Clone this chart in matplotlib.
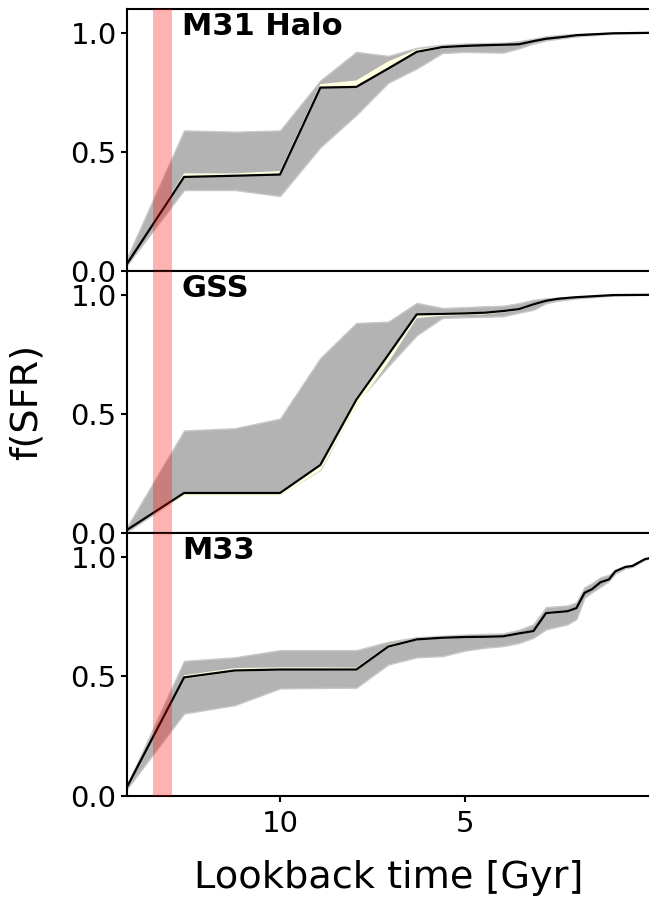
import matplotlib
matplotlib.use("Agg")
import matplotlib.pyplot as plt

# ---------------- data ----------------
panel_names = ["M31 Halo", "GSS", "M33"]

t_m31 = [14.13, 12.59, 11.22, 10.0, 8.91, 7.94, 7.08, 6.31, 5.62, 5.01, 4.47, 3.98,
         3.55, 3.16, 2.82, 2.51, 2.24, 2.0, 1.0, 0.0]
m31_best = [0.03, 0.395, 0.40, 0.405, 0.77, 0.773, 0.85, 0.92, 0.94, 0.945, 0.948, 0.95,
            0.952, 0.965, 0.975, 0.98, 0.985, 0.99, 0.998, 1.0]
m31_hi = [0.055, 0.59, 0.585, 0.59, 0.80, 0.92, 0.903, 0.937, 0.95, 0.955, 0.957, 0.958,
          0.965, 0.975, 0.985, 0.99, 0.993, 0.995, 1.0, 1.0]
m31_lo = [0.025, 0.34, 0.34, 0.315, 0.52, 0.655, 0.79, 0.85, 0.915, 0.92, 0.918, 0.917,
          0.935, 0.955, 0.968, 0.975, 0.98, 0.985, 0.997, 1.0]
m31_rand_hi = [0.03, 0.41, 0.41, 0.42, 0.785, 0.80, 0.88, 0.93, 0.945, 0.948, 0.95, 0.953,
               0.955, 0.968, 0.978, 0.982, 0.987, 0.992, 0.999, 1.0]
m31_rand_lo = [0.03, 0.395, 0.40, 0.405, 0.77, 0.77, 0.85, 0.915, 0.935, 0.942, 0.946, 0.948,
               0.95, 0.963, 0.973, 0.978, 0.983, 0.988, 0.997, 1.0]

t_gss = [14.13, 12.59, 11.22, 10.0, 8.91, 7.94, 7.08, 6.31, 5.62, 5.01, 4.47, 3.98,
         3.55, 3.16, 2.82, 2.51, 2.24, 2.0, 1.0, 0.0]
gss_best = [0.013, 0.168, 0.168, 0.168, 0.286, 0.56, 0.748, 0.918, 0.92, 0.922, 0.925, 0.932,
            0.94, 0.96, 0.975, 0.983, 0.987, 0.99, 0.999, 1.0]
gss_hi = [0.025, 0.43, 0.44, 0.48, 0.735, 0.882, 0.887, 0.966, 0.945, 0.948, 0.952, 0.954,
          0.965, 0.979, 0.985, 0.988, 0.99, 0.992, 1.0, 1.0]
gss_lo = [0.005, 0.164, 0.164, 0.164, 0.265, 0.546, 0.70, 0.83, 0.903, 0.906, 0.908, 0.91,
          0.925, 0.937, 0.965, 0.975, 0.98, 0.985, 0.997, 1.0]
gss_rand_hi = [0.015, 0.172, 0.172, 0.172, 0.292, 0.57, 0.755, 0.922, 0.925, 0.926, 0.929, 0.936,
               0.944, 0.963, 0.978, 0.985, 0.989, 0.992, 1.0, 1.0]
gss_rand_lo = [0.01, 0.156, 0.156, 0.156, 0.262, 0.528, 0.715, 0.902, 0.912, 0.915, 0.918, 0.926,
               0.934, 0.955, 0.97, 0.98, 0.984, 0.987, 0.998, 1.0]

t_m33 = [14.13, 12.59, 11.22, 10.0, 8.91, 7.94, 7.08, 6.31, 5.62, 5.01, 4.47, 3.98,
         3.55, 3.16, 2.82, 2.24, 2.0, 1.78, 1.58, 1.35, 1.12, 0.95, 0.68, 0.49, 0.30,
         0.16, 0.0]
m33_best = [0.038, 0.496, 0.525, 0.529, 0.529, 0.529, 0.625, 0.655, 0.662, 0.665, 0.666, 0.668,
            0.68, 0.69, 0.765, 0.773, 0.786, 0.85, 0.865, 0.894, 0.906, 0.94, 0.958, 0.962, 0.978,
            0.99, 0.996]
m33_hi = [0.045, 0.565, 0.58, 0.61, 0.61, 0.61, 0.645, 0.664, 0.67, 0.675, 0.678, 0.68,
          0.695, 0.718, 0.79, 0.797, 0.81, 0.873, 0.89, 0.915, 0.925, 0.945, 0.962, 0.968, 0.982,
          0.993, 0.998]
m33_lo = [0.03, 0.345, 0.38, 0.45, 0.452, 0.453, 0.55, 0.58, 0.585, 0.608, 0.62, 0.627,
          0.64, 0.662, 0.697, 0.718, 0.74, 0.83, 0.852, 0.875, 0.90, 0.93, 0.952, 0.958, 0.975,
          0.988, 0.995]
m33_rand_hi = [0.04, 0.505, 0.535, 0.538, 0.538, 0.537, 0.632, 0.66, 0.667, 0.669, 0.67, 0.672,
               0.684, 0.694, 0.77, 0.778, 0.79, 0.855, 0.87, 0.898, 0.91, 0.943, 0.96, 0.965, 0.98,
               0.992, 0.997]
m33_rand_lo = [0.036, 0.49, 0.52, 0.525, 0.525, 0.525, 0.62, 0.651, 0.659, 0.662, 0.663, 0.665,
               0.677, 0.687, 0.76, 0.769, 0.782, 0.846, 0.861, 0.89, 0.902, 0.937, 0.955, 0.959, 0.975,
               0.988, 0.995]

panel_t = [t_m31, t_gss, t_m33]
panel_best = [m31_best, gss_best, m33_best]
panel_hi = [m31_hi, gss_hi, m33_hi]
panel_lo = [m31_lo, gss_lo, m33_lo]
panel_rhi = [m31_rand_hi, gss_rand_hi, m33_rand_hi]
panel_rlo = [m31_rand_lo, gss_rand_lo, m33_rand_lo]

reion_band = (12.91, 13.43)
x_ticks = [10, 5]
x_tick_labels = ["10", "5"]
y_ticks = [0.0, 0.5, 1.0]
y_tick_labels = ["0.0", "0.5", "1.0"]

# ---------------- figure ----------------
W, H = 649, 899
fig = plt.figure(figsize=(W / 100, H / 100), dpi=100)

left = 127 / W
right = 650.5 / W
edges = [9, 271, 533, 796]

axes = []
for i in range(3):
    top_px, bot_px = edges[i], edges[i + 1]
    ax = fig.add_axes([left, 1 - bot_px / H, right - left, (bot_px - top_px) / H])
    axes.append(ax)

for i, ax in enumerate(axes):
    t = panel_t[i]
    ax.fill_between(t, panel_lo[i], panel_hi[i], facecolor="#b3b3b3",
                    edgecolor="#c8c8c8", lw=1.0, zorder=1)
    ax.fill_between(t, panel_rlo[i], panel_rhi[i], facecolor="lightyellow",
                    edgecolor="none", lw=0, zorder=2)
    ax.plot(t, panel_best[i], color="black", lw=1.6, zorder=3)
    ax.axvspan(reion_band[0], reion_band[1], color="red", alpha=0.3, lw=0, zorder=4)

    ax.set_xlim(14.13, 0.0)
    ax.set_ylim(0, 1.1)
    ax.set_yticks(y_ticks)
    ax.set_yticklabels(y_tick_labels)
    ax.set_xticks(x_ticks)
    ax.tick_params(axis="both", direction="out", labelsize=21, length=4, width=1.5)
    ax.tick_params(axis="x", pad=6)
    for sp in ax.spines.values():
        sp.set_linewidth(1.5)
    ax.text(0.105, 0.90, panel_names[i], transform=ax.transAxes, fontsize=22,
            fontweight="bold", ha="left", va="baseline", zorder=5)
    if i < 2:
        ax.tick_params(axis="x", bottom=False, labelbottom=False)

axes[2].set_xticklabels(x_tick_labels)
axes[2].set_xlabel("Lookback time [Gyr]", fontsize=27.5, labelpad=16)

fig.text(27 / W, 1 - 402 / H, "f(SFR)", rotation=90, fontsize=27.5,
         ha="center", va="center")

fig.savefig("out.png", dpi=100)
